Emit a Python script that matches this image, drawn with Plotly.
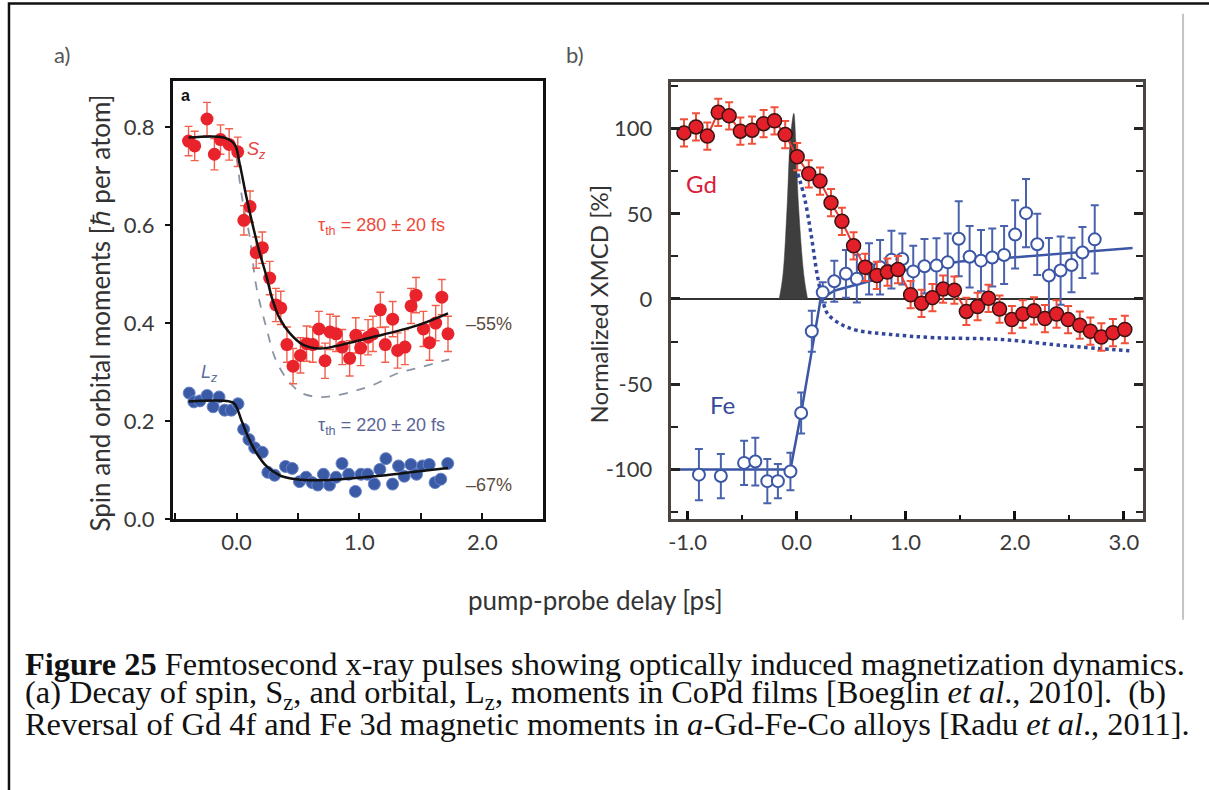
import plotly.graph_objects as go

W, H = 1209, 790

# ---------------- Panel a) data ----------------
sz_x = [-0.39, -0.34, -0.24, -0.18, -0.13, -0.06, 0.01, 0.06, 0.11, 0.16, 0.21, 0.27, 0.32, 0.36,
        0.41, 0.46, 0.52, 0.57, 0.62, 0.67, 0.72, 0.76, 0.81, 0.86, 0.92, 0.97, 1.01, 1.07, 1.11,
        1.17, 1.21, 1.27, 1.31, 1.37, 1.42, 1.46, 1.52, 1.57, 1.62, 1.67, 1.72]
sz_y = [0.772, 0.762, 0.817, 0.745, 0.775, 0.765, 0.750, 0.610, 0.638, 0.544, 0.554, 0.492, 0.437,
        0.431, 0.356, 0.312, 0.334, 0.358, 0.356, 0.388, 0.323, 0.382, 0.378, 0.351, 0.328, 0.375,
        0.349, 0.371, 0.378, 0.427, 0.356, 0.408, 0.344, 0.351, 0.435, 0.457, 0.388, 0.360, 0.400,
        0.453, 0.378]
sz_err = [0.030, 0.030, 0.034, 0.032, 0.030, 0.032, 0.030, 0.030, 0.032, 0.032, 0.032, 0.034, 0.034,
          0.034, 0.036, 0.036, 0.036, 0.036, 0.036, 0.036, 0.036, 0.036, 0.036, 0.036, 0.036, 0.036,
          0.036, 0.036, 0.036, 0.036, 0.036, 0.036, 0.036, 0.036, 0.036, 0.036, 0.036, 0.036, 0.036,
          0.036, 0.036]

szfit_x = [-0.39, -0.10, -0.015, 0.026, 0.08, 0.134, 0.188, 0.242, 0.29, 0.35, 0.431, 0.539, 0.675,
           0.81, 0.972, 1.134, 1.296, 1.50, 1.72]
szfit_y = [0.779, 0.779, 0.765, 0.725, 0.658, 0.598, 0.544, 0.497, 0.450, 0.410, 0.380, 0.356, 0.348,
           0.353, 0.363, 0.373, 0.383, 0.398, 0.420]

szdash_x = [0.0, 0.053, 0.107, 0.161, 0.243, 0.324, 0.431, 0.539, 0.675, 0.81, 0.972, 1.134, 1.296,
            1.50, 1.73]
szdash_y = [0.740, 0.644, 0.577, 0.475, 0.390, 0.322, 0.279, 0.256, 0.249, 0.252, 0.262, 0.276, 0.296,
            0.310, 0.326]

lz_x = [-0.385, -0.347, -0.298, -0.239, -0.19, -0.142, -0.096, -0.042, 0.012, 0.058, 0.101, 0.148,
        0.209, 0.255, 0.31, 0.399, 0.453, 0.512, 0.566, 0.615, 0.661, 0.707, 0.756, 0.809, 0.858,
        0.912, 0.967, 1.012, 1.066, 1.121, 1.166, 1.215, 1.269, 1.318, 1.364, 1.418, 1.464, 1.513,
        1.567, 1.615, 1.661, 1.718]
lz_y = [0.257, 0.239, 0.241, 0.252, 0.229, 0.249, 0.222, 0.222, 0.235, 0.183, 0.162, 0.145, 0.136,
        0.095, 0.089, 0.107, 0.103, 0.076, 0.085, 0.074, 0.069, 0.091, 0.069, 0.085, 0.113, 0.091,
        0.056, 0.091, 0.091, 0.071, 0.101, 0.123, 0.071, 0.108, 0.087, 0.111, 0.091, 0.108, 0.111,
        0.074, 0.081, 0.113]
lz_err = [0.010] * len(lz_x)

lzfit_x = [-0.39, -0.06, -0.015, 0.039, 0.093, 0.161, 0.242, 0.35, 0.485, 0.675, 0.945, 1.215, 1.45, 1.72]
lzfit_y = [0.240, 0.240, 0.235, 0.202, 0.168, 0.135, 0.108, 0.089, 0.081, 0.079, 0.083, 0.089, 0.096, 0.104]

# ---------------- Panel b) data ----------------
gd_x = [-1.033, -0.923, -0.819, -0.719, -0.619, -0.516, -0.409, -0.303, -0.203, -0.105, 0.005, 0.111,
        0.214, 0.315, 0.415, 0.522, 0.628, 0.735, 0.832, 0.929, 1.045, 1.145, 1.245, 1.343, 1.446,
        1.556, 1.659, 1.759, 1.86, 1.973, 2.073, 2.176, 2.276, 2.383, 2.489, 2.596, 2.693, 2.794,
        2.9, 3.009]
gd_y = [97.5, 101, 95.6, 109.6, 107.5, 98.5, 99.1, 102.9, 104.6, 96.5, 83.5, 73.5, 69.2, 56.5, 45.6,
        31.2, 18.6, 13.8, 15.8, 17.3, 2.5, -2.5, 0.8, 5.8, 5.2, -7.3, -4.4, 0.4, -5.9, -12.1, -8.8,
        -6.9, -11.5, -8.8, -12.1, -15.4, -18.9, -22.3, -19.8, -17.9]
gd_err = [8] * len(gd_x)

fe_x = [-0.896, -0.695, -0.482, -0.379, -0.269, -0.172, -0.057, 0.041, 0.139, 0.239, 0.345, 0.452,
        0.552, 0.664, 0.765, 0.869, 0.969, 1.069, 1.172, 1.282, 1.385, 1.486, 1.586, 1.69, 1.793,
        1.902, 2.003, 2.103, 2.206, 2.313, 2.42, 2.52, 2.62, 2.733]
fe_y = [-103.1, -103.9, -96.2, -95.4, -106.9, -106.9, -101.2, -66.9, -18.9, 3.9, 10.4, 14.8, 11.9,
        17.7, 18.6, 23.1, 23.5, 16.2, 19.2, 19.6, 21.5, 35.4, 24.8, 22.5, 24.4, 25.8, 37.9, 50.4,
        32.1, 13.8, 16.7, 20.0, 27.3, 35.0]
fe_err = [15, 13, 13, 14, 13, 10, 11, 12, 12, 6, 12, 14, 14, 15, 16, 17, 15, 15, 16, 16, 17, 22, 18,
          18, 17, 17, 20, 20, 18, 22, 20, 16, 15, 20]

fefit_x = [-1.15, -0.057, 0.041, 0.139, 0.22, 0.35, 0.70, 1.0, 1.5, 2.0, 2.5, 3.08]
fefit_y = [-100, -100, -67, -30, 0, 5, 11, 17, 22, 24.5, 27, 30]

dot_x = [0.01, 0.07, 0.13, 0.19, 0.25, 0.29, 0.41, 0.56, 0.86, 1.26, 1.87, 2.47, 3.05]
dot_y = [73.5, 60, 38.8, 13.8, -3.5, -9.2, -15, -18.5, -20.8, -22.7, -23.7, -27.5, -30.4]

pulse_x = [-0.16, -0.126, -0.087, -0.059, -0.026, -0.008, 0.017, 0.066, 0.10]
pulse_y = [0, 14, 55, 93, 109, 93, 55, 14, 0]

xb_ticks = [-1, 0, 1, 2, 3]
xb_labels = ['-1.0', '0.0', '1.0', '2.0', '3.0']
yb_ticks = [-100, -50, 0, 50, 100]
yb_labels = ['-100', '-50', '0', '50', '100']
xa_ticks = [0, 1, 2]
xa_labels = ['0.0', '1.0', '2.0']
ya_ticks = [0.0, 0.2, 0.4, 0.6, 0.8]
ya_labels = ['0.0', '0.2', '0.4', '0.6', '0.8']

RED = '#e8232b'
RED_ERR = '#f2604c'
BLUE = '#3b5aa6'
FE_BLUE = '#3c56a6'

fig = go.Figure()

# ---- panel a traces ----
fig.add_trace(go.Scatter(x=szdash_x, y=szdash_y, mode='lines', line=dict(color='#8c94a4', width=1.8, dash='dash', shape='spline'),
                         xaxis='x', yaxis='y', hoverinfo='skip'))
fig.add_trace(go.Scatter(x=sz_x, y=sz_y, mode='markers', marker=dict(color=RED, size=13),
                         error_y=dict(type='data', array=sz_err, color=RED_ERR, thickness=1.4, width=4),
                         xaxis='x', yaxis='y'))
fig.add_trace(go.Scatter(x=lz_x, y=lz_y, mode='markers', marker=dict(color=BLUE, size=12, line=dict(color='#6a84c8', width=1)),
                         error_y=dict(type='data', array=lz_err, color='#5a78c0', thickness=1.2, width=3),
                         xaxis='x', yaxis='y'))
fig.add_trace(go.Scatter(x=szfit_x, y=szfit_y, mode='lines', line=dict(color='#111111', width=2.5, shape='spline'),
                         xaxis='x', yaxis='y'))
fig.add_trace(go.Scatter(x=lzfit_x, y=lzfit_y, mode='lines', line=dict(color='#111111', width=2.5, shape='spline'),
                         xaxis='x', yaxis='y'))

# ---- panel b traces ----
fig.add_trace(go.Scatter(x=pulse_x, y=pulse_y, mode='lines', fill='tozeroy', fillcolor='#3e3e3e',
                         line=dict(color='#3e3e3e', width=0.5, shape='spline'), xaxis='x2', yaxis='y2'))
fig.add_trace(go.Scatter(x=dot_x, y=dot_y, mode='lines', line=dict(color='#33479a', width=3.5, dash='dot', shape='spline'),
                         xaxis='x2', yaxis='y2'))
fig.add_trace(go.Scatter(x=fefit_x, y=fefit_y, mode='lines', line=dict(color=FE_BLUE, width=2.5),
                         xaxis='x2', yaxis='y2'))
fig.add_trace(go.Scatter(x=fe_x, y=fe_y, mode='markers',
                         marker=dict(color='white', size=12, line=dict(color=FE_BLUE, width=2)),
                         error_y=dict(type='data', array=fe_err, color='#4a62ac', thickness=2, width=4),
                         xaxis='x2', yaxis='y2'))
fig.add_trace(go.Scatter(x=gd_x, y=gd_y, mode='lines+markers', line=dict(color='#ea3a30', width=2),
                         marker=dict(color='#e3202a', size=14, line=dict(color='#3a1212', width=1.5)),
                         error_y=dict(type='data', array=gd_err, color='#f2503a', thickness=2, width=4),
                         xaxis='x2', yaxis='y2'))

tickfont = dict(family='Lato, Open Sans, sans-serif', size=22, color='#3a3a3a')

def pxx(p):
    return p / W

def pxy(p):
    return 1 - p / H

fig.update_layout(
    width=W, height=H, margin=dict(l=0, r=0, t=0, b=0),
    paper_bgcolor='white', plot_bgcolor='white', showlegend=False,
    xaxis=dict(domain=[pxx(170), pxx(541)], range=[-0.52, 2.49], anchor='y',
               tickvals=xa_ticks, ticktext=xa_labels, ticks='inside', ticklen=6, tickwidth=1.5,
               tickcolor='#111', minor=dict(ticks='inside', ticklen=6, dtick=0.5, tick0=0, tickcolor='#111', tickwidth=1.5),
               showline=True, linecolor='#111', linewidth=2.5, mirror=True,
               showgrid=False, zeroline=False, tickfont=tickfont, ticklabelstandoff=2),
    yaxis=dict(domain=[pxy(527.5), pxy(82.7)], range=[0, 0.894], anchor='x',
               tickvals=ya_ticks, ticktext=ya_labels, ticks='outside', ticklen=5, tickwidth=1.5,
               tickcolor='#111', showline=True, linecolor='#111', linewidth=2.5, mirror=True,
               showgrid=False, zeroline=False, tickfont=tickfont, ticklabelstandoff=6),
    xaxis2=dict(domain=[pxx(670), pxx(1143)], range=[-1.149, 3.177], anchor='y2',
                tickvals=xb_ticks, ticktext=xb_labels, ticks='inside', ticklen=9, tickwidth=2.5,
                tickcolor='#111', minor=dict(ticks='inside', ticklen=5, dtick=0.5, tick0=0, tickcolor='#111', tickwidth=2),
                showline=True, linecolor='#4a4540', linewidth=2.5, mirror=True,
                showgrid=False, zeroline=False, tickfont=tickfont, ticklabelstandoff=2),
    yaxis2=dict(domain=[pxy(528), pxy(83.3)], range=[-129.3, 127.4], anchor='x2',
                tickvals=yb_ticks, ticktext=yb_labels, ticks='inside', ticklen=9, tickwidth=2.5,
                tickcolor='#222', minor=dict(ticks='inside', ticklen=7, dtick=25, tick0=0, tickcolor='#222', tickwidth=2),
                showline=True, linecolor='#4a4540', linewidth=2.5, mirror='ticks',
                showgrid=False, zeroline=True, zerolinecolor='#333', zerolinewidth=2.2, tickfont=tickfont,
                ticklabelstandoff=12),
)

ann = []
sans = 'Liberation Sans, Arial, sans-serif'
cal = 'Lato, Open Sans, sans-serif'
# panel a annotations
ann.append(dict(x=-0.47, y=0.866, xref='x', yref='y', text='<b>a</b>', showarrow=False, xanchor='left',
                font=dict(family=sans, size=16, color='#111')))
ann.append(dict(x=0.165, y=0.752, xref='x', yref='y', text='<i>S<sub>z</sub></i>', showarrow=False,
                xanchor='center', font=dict(family=sans, size=18, color='#e8453c')))
ann.append(dict(x=1.18, y=0.598, xref='x', yref='y', text='τ<sub>th</sub> = 280 ± 20 fs', showarrow=False,
                xanchor='center', font=dict(family=sans, size=18, color='#ec4a3c')))
ann.append(dict(x=2.05, y=0.398, xref='x', yref='y', text='–55%', showarrow=False,
                xanchor='center', font=dict(family=sans, size=18, color='#5b4b40')))
ann.append(dict(x=-0.22, y=0.296, xref='x', yref='y', text='<i>L<sub>z</sub></i>', showarrow=False,
                xanchor='center', font=dict(family=sans, size=18, color='#5e6c9e')))
ann.append(dict(x=1.18, y=0.189, xref='x', yref='y', text='τ<sub>th</sub> = 220 ± 20 fs', showarrow=False,
                xanchor='center', font=dict(family=sans, size=18, color='#5a6498')))
ann.append(dict(x=2.05, y=0.070, xref='x', yref='y', text='–67%', showarrow=False,
                xanchor='center', font=dict(family=sans, size=18, color='#5b4b40')))
# panel b annotations
ann.append(dict(x=-0.87, y=68, xref='x2', yref='y2', text='Gd', showarrow=False,
                xanchor='center', font=dict(family=cal, size=24, color='#d9203a')))
ann.append(dict(x=-0.68, y=-62, xref='x2', yref='y2', text='Fe', showarrow=False,
                xanchor='center', font=dict(family=cal, size=24, color='#35489a')))
# panel labels and axis titles
ann.append(dict(x=pxx(59), y=pxy(55), xref='paper', yref='paper', text='a)', showarrow=False,
                xanchor='center', yanchor='middle', font=dict(family=cal, size=22, color='#555')))
ann.append(dict(x=pxx(573), y=pxy(55), xref='paper', yref='paper', text='b)', showarrow=False,
                xanchor='center', yanchor='middle', font=dict(family=cal, size=22, color='#555')))
ann.append(dict(x=pxx(97), y=pxy(318), xref='paper', yref='paper', text='Spin and orbital moments [ℏ per atom]',
                showarrow=False, textangle=-90, xanchor='center', yanchor='middle',
                font=dict(family=cal, size=26, color='#333')))
ann.append(dict(x=pxx(597), y=pxy(310), xref='paper', yref='paper', text='Normalized XMCD [%]',
                showarrow=False, textangle=-90, xanchor='center', yanchor='middle',
                font=dict(family=cal, size=24, color='#333')))
ann.append(dict(x=pxx(594), y=pxy(610), xref='paper', yref='paper', text='pump-probe delay [ps]',
                showarrow=False, xanchor='center', yanchor='middle',
                font=dict(family=cal, size=26, color='#333')))
# caption
serif = 'Liberation Serif, Times New Roman, serif'
cap = [
    '<b>Figure 25</b> Femtosecond x-ray pulses showing optically induced magnetization dynamics.',
    '(a) Decay of spin, S<sub>z</sub>, and orbital, L<sub>z</sub>, moments in CoPd films [Boeglin <i>et al</i>., 2010]. &nbsp;(b)',
    'Reversal of Gd 4f and Fe 3d magnetic moments in <i>a</i>-Gd-Fe-Co alloys [Radu <i>et al</i>., 2011].',
]
for txt, yy in zip(cap, [675, 706, 736]):
    ann.append(dict(x=pxx(20), y=pxy(yy), xref='paper', yref='paper', text=txt, showarrow=False,
                    xanchor='left', yanchor='middle', align='left',
                    font=dict(family=serif, size=32.4, color='#111')))

fig.update_layout(annotations=ann)

# frame of the page (top and left edges; the rest falls outside the picture)
fig.update_layout(shapes=[
    dict(type='rect', xref='paper', yref='paper', x0=pxx(6), x1=1.05, y0=-0.05, y1=pxy(3.5),
         line=dict(color='#111', width=2.5), fillcolor='rgba(0,0,0,0)', layer='above'),
    dict(type='line', xref='paper', yref='paper', x0=pxx(1183), x1=pxx(1183), y0=pxy(14), y1=pxy(630),
         line=dict(color='#c4c4c4', width=2)),
])

post = (
    "var de=document.documentElement, b=document.body;"
    "de.style.margin='0';de.style.padding='0';de.style.overflow='hidden';de.style.height='790px';"
    "b.style.margin='0';b.style.padding='0';b.style.overflow='hidden';b.style.height='790px';"
    "var g=document.getElementsByClassName('plotly-graph-div')[0];"
    "if(g){g.style.position='absolute';g.style.top='0px';g.style.left='0px';"
    "g.style.width='1209px';g.style.height='790px';}"
    "window.scrollTo(0,0);"
)
fig.write_html('out.html', config={'displayModeBar': False}, post_script=post)
